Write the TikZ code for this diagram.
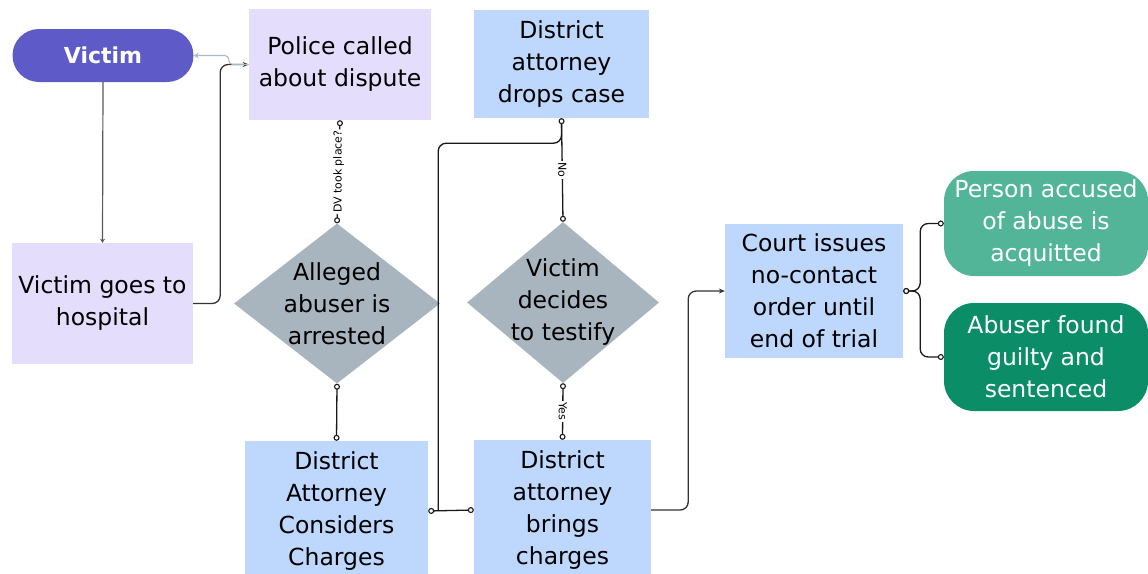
\documentclass[tikz,border=0pt]{standalone}
\usepackage{fontspec}
\setmainfont{DejaVu Sans}
\usetikzlibrary{shapes.geometric,arrows.meta,calc}

\definecolor{victimblue}{HTML}{5E5BC8}
\definecolor{lavender}{HTML}{E4DEFC}
\definecolor{paleblue}{HTML}{BDD7FD}
\definecolor{slategray}{HTML}{A9B5BE}
\definecolor{teal}{HTML}{52B597}
\definecolor{darkgreen}{HTML}{0B8E68}
\definecolor{backlink}{HTML}{A8BCC8}

\tikzset{
	box/.style={rectangle, inner sep=0pt, align=center, font=\fontsize{23.5}{32}\selectfont},
	decision/.style={diamond, fill=slategray, inner sep=0pt},
	txt/.style={inner sep=0pt, align=center, font=\fontsize{23.5}{32}\selectfont},
	flow/.style={draw=black!80, line width=1.3pt, rounded corners=8pt, -{Stealth[length=6pt,width=5pt]}},
	link/.style={draw=black!90, line width=1.3pt, rounded corners=8pt},
	dots/.style={link, {Circle[open,length=6pt,fill=white,line width=1.1pt]}-{Circle[open,length=6pt,fill=white,line width=1.1pt]}},
	tag/.style={fill=white, inner sep=1.5pt, font=\fontsize{11}{12}\selectfont}
}

\begin{document}
\begin{tikzpicture}[x=1pt,y=-1pt]
		\useasboundingbox (0,0) rectangle (1148,573);
		% first column
		\node [box, fill=victimblue, text=white, font=\fontsize{22}{26}\selectfont\bfseries, minimum width=181pt, minimum height=53pt, rounded corners=26.5pt] (victim) at (103,55.5) {Victim};
		\node [box, fill=lavender, minimum width=181pt, minimum height=121pt] (hospital) at (102.5,303.5) {Victim goes to\\hospital};
		% second column
		\node [box, fill=lavender, minimum width=182pt, minimum height=111pt] (police) at (340,64.5) {Police called\\about dispute};
		\node [decision, minimum width=206pt, minimum height=160pt] (arrested) at (337,303.5) {};
		\node [txt] (arrestedtxt) at (arrested) {Alleged\\abuser is\\arrested};
		\node [box, fill=paleblue, minimum width=183pt, minimum height=140pt] (consider) at (336.5,511) {District\\Attorney\\Considers\\Charges};
		% third column
		\node [box, fill=paleblue, minimum width=175pt, minimum height=108pt] (drops) at (561.5,64) {District\\attorney\\drops case};
		\node [decision, minimum width=192pt, minimum height=161pt] (testify) at (563,302.5) {};
		\node [txt] (testifytxt) at (testify) {Victim\\decides\\to testify};
		\node [box, fill=paleblue, minimum width=177pt, minimum height=140pt] (brings) at (562.5,510) {District\\attorney\\brings\\charges};
		% outcome
		\node [box, fill=paleblue, minimum width=178pt, minimum height=134pt] (court) at (814,291) {Court issues\\no-contact\\order until\\end of trial};
		\node [box, fill=teal, text=white, minimum width=204pt, minimum height=105pt, rounded corners=30pt] (acquitted) at (1046,223.5) {Person accused\\of abuse is\\acquitted};
		\node [box, fill=darkgreen, text=white, minimum width=204pt, minimum height=108pt, rounded corners=30pt] (guilty) at (1046,357) {Abuser found\\guilty and\\sentenced};

		% connectors
		\draw [flow, draw=black!65, line width=1.2pt, -{Stealth[length=4pt,width=5pt]}] (victim.south) -- (hospital.north);
		\draw [flow] (hospital.east) -- ++(27,0) |- (police.west);
		\draw [flow, draw=backlink, line width=1.1pt, rounded corners=4pt, -{Stealth[open,length=5pt,width=6pt]}] (police.west) -- ++(-20,0) |- (victim.east);
		\draw [dots] (police.south) -- node [tag, rotate=90] {DV took place?} (arrested.north);
		\draw [dots] (arrested.south) -- (consider.north);
		\draw [dots] (consider.east) -- (brings.west);
		\draw [link] ($(consider.east)+(10,0)$) |- ($(drops.south)+(0,25)$) -- (drops.south);
		\draw [dots] (testify.north) -- node [tag, rotate=-90] {No} (drops.south);
		\draw [dots] (testify.south) -- node [tag, rotate=-90] {Yes} (brings.north);
		\draw [flow] (brings.east) -- ++(37,0) |- (court.west);
		\draw [dots] (court.east) -- ++(17,0) |- (acquitted.west);
		\draw [dots] (court.east) -- ++(17,0) |- (guilty.west);
\end{tikzpicture}
\end{document}
